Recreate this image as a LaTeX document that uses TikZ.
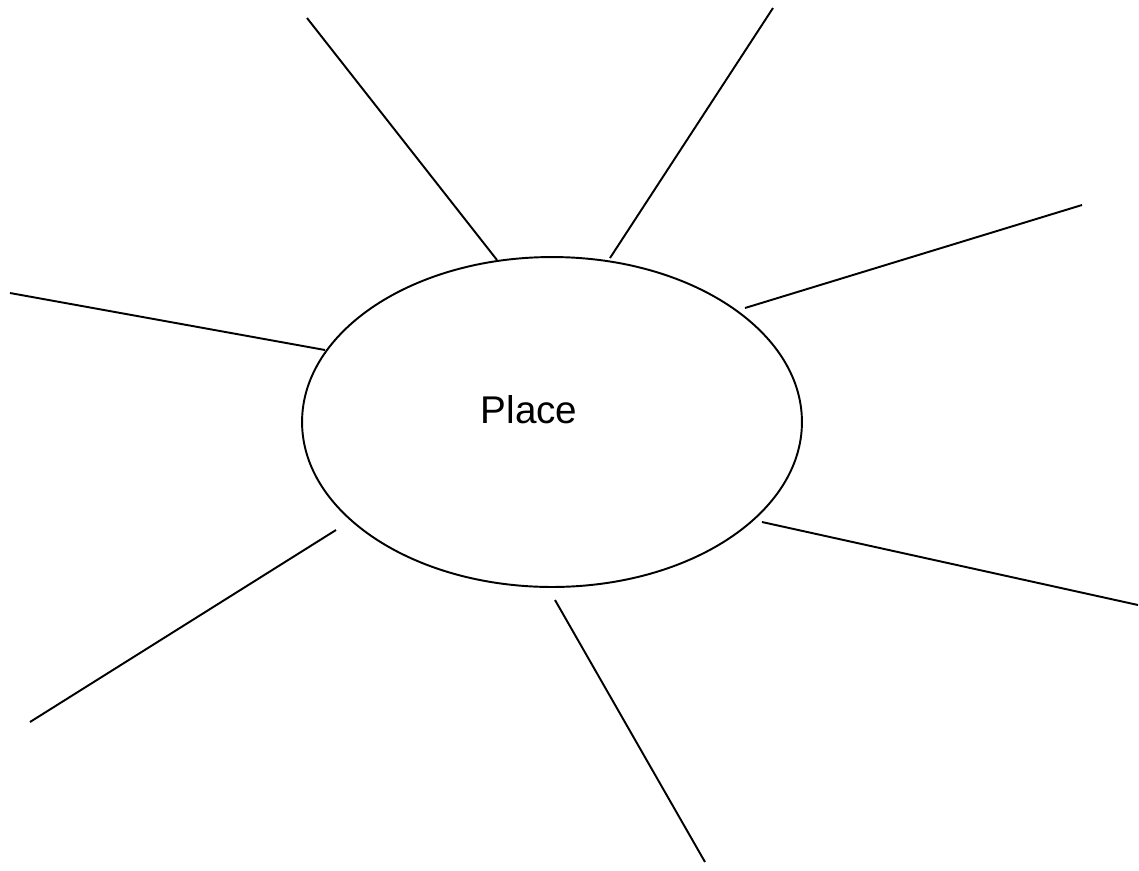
\documentclass[tikz,border=0pt]{standalone}
\usepackage{fontspec}
\setmainfont{Liberation Sans}
\usetikzlibrary{shapes.geometric}

\tikzset{
  placebox/.style={ellipse, draw, line width=1.1pt, minimum width=10cm,
                   minimum height=6.6cm, inner sep=0pt, font=\fontsize{22}{26}\selectfont},
  ray/.style={line width=1.1pt}
}

\begin{document}
\begin{tikzpicture}[x=0.02cm, y=-0.02cm]
\useasboundingbox (0,0) rectangle (1139,870);

% centre
\node[placebox] (place) at (552,422) {};
\node[font=\fontsize{22}{26}\selectfont] (placetext) at (529,410) {Place};

% ray ends (outer / inner)
\coordinate (o1) at (307,18);   \coordinate (i1) at (497,260);
\coordinate (o2) at (773,8);    \coordinate (i2) at (610,258);
\coordinate (o3) at (1082,205); \coordinate (i3) at (745,308);
\coordinate (o4) at (10,293);   \coordinate (i4) at (325,350);
\coordinate (o5) at (1138,605); \coordinate (i5) at (762,522);
\coordinate (o6) at (30,722);   \coordinate (i6) at (336,530);
\coordinate (o7) at (705,862);  \coordinate (i7) at (555,600);

% rays
\foreach \k in {1,...,7} {
  \draw[ray] (o\k) -- (i\k);
}
\end{tikzpicture}
\end{document}
